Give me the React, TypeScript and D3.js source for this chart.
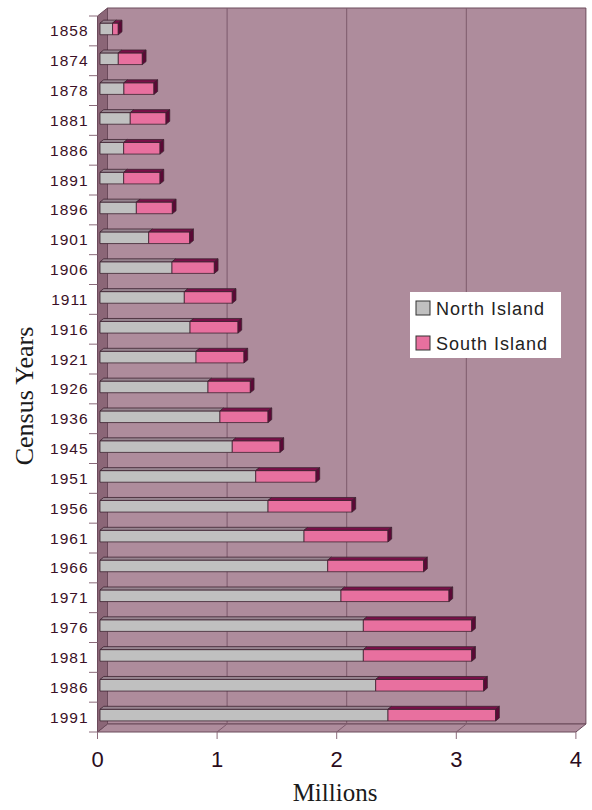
import * as React from "react";
import * as d3 from "d3";

const years = [
    "1858", "1874", "1878", "1881", "1886", "1891", "1896", "1901",
    "1906", "1911", "1916", "1921", "1926", "1936", "1945", "1951",
    "1956", "1961", "1966", "1971", "1976", "1981", "1986", "1991",
];

// millions
const northIsland = [
    0.105, 0.153, 0.2, 0.253, 0.198, 0.198, 0.304, 0.407,
    0.602, 0.705, 0.753, 0.803, 0.903, 1.003, 1.106, 1.302,
    1.405, 1.706, 1.904, 2.015, 2.202, 2.202, 2.305, 2.408,
];
const southIsland = [
    0.048, 0.201, 0.251, 0.299, 0.304, 0.304, 0.301, 0.343,
    0.354, 0.401, 0.401, 0.401, 0.354, 0.402, 0.399, 0.504,
    0.702, 0.702, 0.802, 0.903, 0.906, 0.906, 0.903, 0.9,
];
const valueTicks = [0, 1, 2, 3, 4];
const seriesNames = ["North Island", "South Island"];

const W = 592;
const H = 810;
const DX = 10; // depth offset of the 3d box
const DY = -8;

const colors = {
    wall: "#ae8c9c",
    sideWall: "#8b6677",
    grid: "#7d5a6c",
    edge: "#6b4a5b",
    tick: "#8a6a7a",
    greyFront: "#c0c0c0",
    greyTop: "#978590",
    pinkFront: "#e8709f",
    pinkTop: "#7a0f48",
    pinkSide: "#5c0836",
    outline: "#3e2331",
    label: "#3b1026",
};

export default function App() {
    const ref = React.useRef<SVGSVGElement>(null);

    React.useEffect(() => {
        const svg = d3.select(ref.current);
        svg.selectAll("*").remove();

        const x = d3.scaleLinear().domain([0, 4]).range([97.5, 97.5 + 4 * 119.6]);
        const y = d3.scaleBand().domain(years).range([16, 732]).padding(0);
        const p = (px: number, py: number, z: number) => [px + z * DX, py + z * DY];
        const poly = (pts: number[][]) => pts.map((q) => q.join(",")).join(" ");

        const x0 = x(0), x4 = x(4);
        const yTop = 16, yBot = 732;

        // back wall
        svg.append("polygon")
            .attr("points", poly([p(x0, yTop, 1), p(x4, yTop, 1), p(x4, yBot, 1), p(x0, yBot, 1)]))
            .attr("fill", colors.wall)
            .attr("stroke", colors.edge)
            .attr("stroke-width", 1);

        // floor
        svg.append("polygon")
            .attr("points", poly([p(x0, yBot, 0), p(x4, yBot, 0), p(x4, yBot, 1), p(x0, yBot, 1)]))
            .attr("fill", colors.wall)
            .attr("stroke", colors.edge)
            .attr("stroke-width", 1);

        // gridlines on wall + floor
        valueTicks.slice(1, 4).forEach((v) => {
            const [gx, gy] = p(x(v), yTop, 1);
            const [, gy2] = p(x(v), yBot, 1);
            svg.append("line")
                .attr("x1", gx).attr("x2", gx).attr("y1", gy).attr("y2", gy2)
                .attr("stroke", colors.grid).attr("stroke-width", 1);
            const [fx, fy] = p(x(v), yBot, 0);
            svg.append("line")
                .attr("x1", fx).attr("y1", fy).attr("x2", gx).attr("y2", gy2)
                .attr("stroke", colors.grid).attr("stroke-width", 1);
        });

        // left side wall
        svg.append("polygon")
            .attr("points", poly([p(x0, yTop, 0), p(x0, yTop, 1), p(x0, yBot, 1), p(x0, yBot, 0)]))
            .attr("fill", colors.sideWall)
            .attr("stroke", colors.edge)
            .attr("stroke-width", 1);

        // category ticks + labels
        const step = y.step();
        d3.range(years.length + 1).forEach((i) => {
            const ty = yTop + i * step;
            svg.append("line")
                .attr("x1", 89).attr("x2", x0).attr("y1", ty).attr("y2", ty)
                .attr("stroke", colors.tick).attr("stroke-width", 1);
        });
        svg.append("g")
            .selectAll("text")
            .data(years)
            .enter()
            .append("text")
            .text((d) => d)
            .attr("x", 88.5)
            .attr("y", (d) => y(d)! + step / 2 + 5.5)
            .attr("text-anchor", "end")
            .attr("font-family", "Liberation Sans, Arial, sans-serif")
            .attr("font-size", 15.5)
            .attr("letter-spacing", 1)
            .attr("fill", colors.label);

        // value ticks + labels
        valueTicks.forEach((v) => {
            svg.append("line")
                .attr("x1", x(v)).attr("x2", x(v)).attr("y1", yBot).attr("y2", yBot + 7)
                .attr("stroke", colors.tick).attr("stroke-width", 1);
            svg.append("text")
                .text(v)
                .attr("x", x(v))
                .attr("y", 767)
                .attr("text-anchor", "middle")
                .attr("font-family", "Liberation Sans, Arial, sans-serif")
                .attr("font-size", 22)
                .attr("fill", "#2a0c1c");
        });

        // bars
        const z0 = 0.25, z1 = 0.62;
        const thick = step * 0.39;
        const face = (g: any, pts: number[][], fill: string) =>
            g.append("polygon")
                .attr("points", poly(pts))
                .attr("fill", fill)
                .attr("stroke", colors.outline)
                .attr("stroke-width", 0.8)
                .attr("stroke-linejoin", "round");

        const bars = svg.append("g");
        years.forEach((yr, i) => {
            const cy = y(yr)! + step / 2;
            const t = cy - thick / 2, b = cy + thick / 2;
            const segs = [
                { a: 0, e: northIsland[i], front: colors.greyFront, top: colors.greyTop, side: colors.greyTop },
                { a: northIsland[i], e: northIsland[i] + southIsland[i], front: colors.pinkFront, top: colors.pinkTop, side: colors.pinkSide },
            ];
            segs.forEach((s, k) => {
                const xa = x(s.a), xe = x(s.e);
                face(bars, [p(xa, t, z0), p(xe, t, z0), p(xe, b, z0), p(xa, b, z0)], s.front);
                face(bars, [p(xa, t, z0), p(xe, t, z0), p(xe, t, z1), p(xa, t, z1)], s.top);
                if (k === 1) {
                    face(bars, [p(xe, t, z0), p(xe, t, z1), p(xe, b, z1), p(xe, b, z0)], s.side);
                }
            });
        });

        // legend
        const lg = svg.append("g").attr("transform", "translate(410,292)");
        lg.append("rect").attr("width", 151).attr("height", 66).attr("fill", "#ffffff");
        seriesNames.forEach((name, i) => {
            const ry = 16 + i * 35;
            lg.append("rect")
                .attr("x", 6).attr("y", ry - 7).attr("width", 14).attr("height", 14)
                .attr("fill", i === 0 ? colors.greyFront : colors.pinkFront)
                .attr("stroke", "#333").attr("stroke-width", 1);
            lg.append("text")
                .text(name)
                .attr("x", 26)
                .attr("y", ry + 6.5)
                .attr("font-family", "Liberation Sans, Arial, sans-serif")
                .attr("font-size", 18)
                .attr("letter-spacing", 1)
                .attr("fill", "#222");
        });

        // axis titles
        svg.append("text")
            .text("Millions")
            .attr("x", 335)
            .attr("y", 801)
            .attr("text-anchor", "middle")
            .attr("font-family", "Liberation Serif, Times New Roman, serif")
            .attr("font-size", 25)
            .attr("fill", "#1a1a1a");
        svg.append("text")
            .text("Census Years")
            .attr("transform", "translate(33,396) rotate(-90)")
            .attr("text-anchor", "middle")
            .attr("font-family", "Liberation Serif, Times New Roman, serif")
            .attr("font-size", 26)
            .attr("fill", "#1a1a1a");
    }, []);

    return (
        <svg
            ref={ref}
            width={W}
            height={H}
            style={{ position: "absolute", left: 0, top: 0, background: "#fff" }}
        />
    );
}
